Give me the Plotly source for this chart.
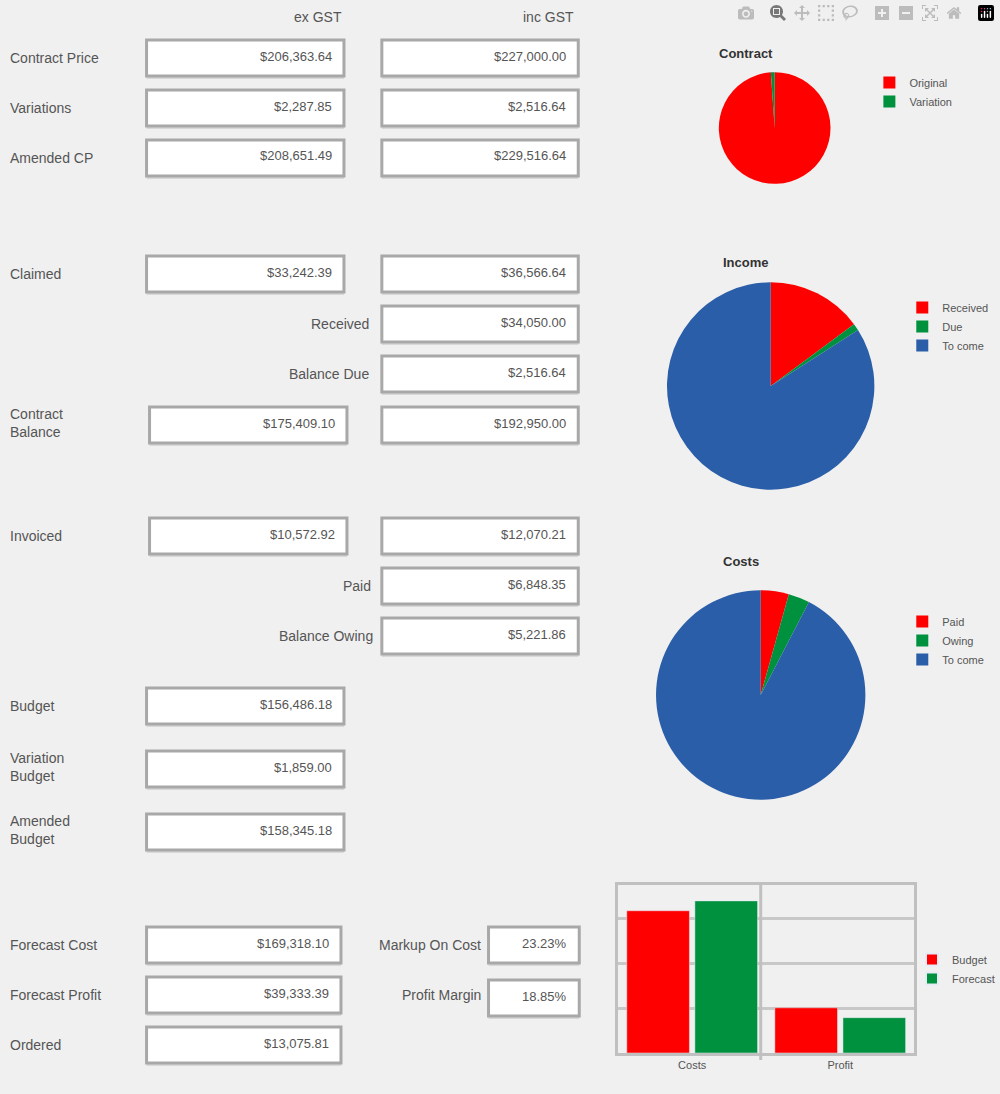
import plotly.graph_objects as go

W, H = 1000, 1094
BG = "#f0f0f0"
RED, GREEN, BLUE = "#ff0000", "#00913f", "#2a5ea8"
FONT = "Liberation Sans"
TXT = "#555555"

row_labels = ["Contract Price", "Variations", "Amended CP", "Claimed", "Received", "Balance Due",
              "Contract<br>Balance", "Invoiced", "Paid", "Balance Owing", "Budget",
              "Variation<br>Budget", "Amended<br>Budget", "Forecast Cost", "Forecast Profit", "Ordered"]
ex_gst = ["$206,363.64", "$2,287.85", "$208,651.49", "$33,242.39", None, None, "$175,409.10",
          "$10,572.92", None, None, "$156,486.18", "$1,859.00", "$158,345.18",
          "$169,318.10", "$39,333.39", "$13,075.81"]
inc_gst = ["$227,000.00", "$2,516.64", "$229,516.64", "$36,566.64", "$34,050.00", "$2,516.64",
           "$192,950.00", "$12,070.21", "$6,848.35", "$5,221.86", None, None, None, None, None, None]
ratio_labels = ["Markup On Cost", "Profit Margin"]
ratio_values = ["23.23%", "18.85%"]

contract_labels = ["Original", "Variation"]
contract_values = [206363.64, 2287.85]
income_labels = ["Received", "Due", "To come"]
income_values = [34050.00, 2516.64, 192950.00]
cost_labels = ["Paid", "Owing", "To\u00a0come"]
cost_values = [6848.35, 5221.86, 146275.0]

bar_cats = ["Costs", "Profit"]
bar_budget = [158345.18, 50306.31]
bar_forecast = [169318.10, 39333.39]

row_y = [58, 108, 158, 274, 324, 374, 425, 536, 586, 636, 706, 769, 832, 945, 995, 1045]
label_right = {4: 372, 5: 372, 8: 374, 9: 376}

def px(x): return x / W
def py(y): return 1 - y / H

shapes, ann = [], []

def box(x0, x1, yc, text, h=36):
    shapes.append(dict(type="rect", xref="paper", yref="paper", x0=px(x0), x1=px(x1),
                       y0=py(yc + h / 2 + 3), y1=py(yc - h / 2 + 3), fillcolor="#d8d8d8",
                       line=dict(width=0), layer="below"))
    shapes.append(dict(type="rect", xref="paper", yref="paper", x0=px(x0), x1=px(x1),
                       y0=py(yc + h / 2), y1=py(yc - h / 2), fillcolor="white",
                       line=dict(color="#a8a8a8", width=3), layer="below"))
    ann.append(dict(xref="paper", yref="paper", x=px(x1 - 10), y=py(yc - 2), text=text,
                    showarrow=False, xanchor="right", yanchor="middle",
                    font=dict(family=FONT, size=13, color=TXT)))

def label(x, y, text, anchor="left"):
    ann.append(dict(xref="paper", yref="paper", x=px(x), y=py(y), text=text, showarrow=False,
                    xanchor=anchor, yanchor="middle", align="left",
                    font=dict(family=FONT, size=14, color=TXT)))

label(345, 17, "ex GST", "right")
label(578, 17, "inc GST", "right")

for i, lab in enumerate(row_labels):
    y = row_y[i]
    if i in label_right:
        label(label_right[i], y, lab, "right")
    else:
        label(8, y - (0 if "<br>" not in lab else 2), lab)
    wide_left = (147, 345) if i < 13 else (147, 342)
    if i in (6, 7):
        wide_left = (150, 348)
    if ex_gst[i]:
        box(*wide_left, y, ex_gst[i])
    if inc_gst[i]:
        box(383, 580, y, inc_gst[i])

for j, (lab, val) in enumerate(zip(ratio_labels, ratio_values)):
    y = row_y[13 + j]
    label(484, y, lab, "right")
    box(490, 581, y + (3 if j else 0), val)

fig = go.Figure()

def pie(labels, values, colors, cx, cy, r, leg, title, ty):
    fig.add_trace(go.Pie(labels=labels, values=values, marker=dict(colors=colors, line=dict(width=0)),
                         sort=False, direction="clockwise", rotation=0, textinfo="none",
                         domain=dict(x=[px(cx - r), px(cx + r)], y=[py(cy + r), py(cy - r)]),
                         legend=leg, showlegend=True))
    ann.append(dict(xref="paper", yref="paper", x=px(cx), y=py(ty), text="<b>" + title + "</b>",
                    showarrow=False, font=dict(family=FONT, size=13, color="#333")))

pie(contract_labels, contract_values, [RED, GREEN], 777, 128, 56, "legend", "Contract", 44)
pie(income_labels, income_values, [RED, GREEN, BLUE], 773, 386, 104, "legend2", "Income", 253)
pie(cost_labels, cost_values, [RED, GREEN, BLUE], 763, 695, 105, "legend3", "Costs", 561)

fig.add_trace(go.Bar(x=bar_cats, y=bar_budget, name="Budget", marker=dict(color=RED),
                     legend="legend4"))
fig.add_trace(go.Bar(x=bar_cats, y=bar_forecast, name="Forecast", marker=dict(color=GREEN),
                     legend="legend4"))

leg_common = dict(bgcolor="rgba(0,0,0,0)", font=dict(family=FONT, size=11, color=TXT),
                  xanchor="left", yanchor="top", itemwidth=30, tracegroupgap=0)
shapes.append(dict(type="line", xref="paper", yref="paper", x0=px(763), x1=px(763),
                   y0=py(1060), y1=py(885), line=dict(color="#c0c0c0", width=3)))

fig.update_layout(
    width=W, height=H, margin=dict(l=0, r=0, t=0, b=0),
    paper_bgcolor=BG, plot_bgcolor=BG,
    shapes=shapes, annotations=ann, barmode="group", bargap=0.08, bargroupgap=0.08,
    xaxis=dict(domain=[px(620), px(917)], showline=True, linecolor="#c0c0c0", linewidth=3,
               mirror=True, tickfont=dict(family=FONT, size=11, color=TXT), ticks=""),
    yaxis=dict(domain=[py(1053), py(885)], range=[0, 187000], dtick=50000, showticklabels=False,
               gridcolor="#c8c8c8", gridwidth=3, showline=True, linecolor="#c0c0c0",
               linewidth=3, mirror=True, zeroline=False),
    legend=dict(x=px(872), y=py(68), **leg_common),
    legend2=dict(x=px(905), y=py(293), **leg_common),
    legend3=dict(x=px(905), y=py(607), **leg_common),
    legend4=dict(x=px(915), y=py(945), itemsizing="constant", **leg_common),
    showlegend=True,
)

fig.write_html("out.html", post_script="document.body.style.margin='0';document.body.style.background='#f0f0f0';")
